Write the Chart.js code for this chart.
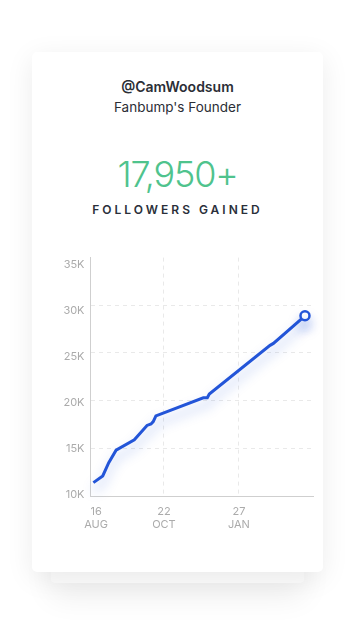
<!DOCTYPE html>
<html>
<head>
<meta charset="utf-8">
<script src="https://cdn.jsdelivr.net/npm/chart.js@4"></script>
<style>
html,body{margin:0;padding:0;background:#fff;width:356px;height:632px;overflow:hidden;font-family:"Inter","Open Sans",sans-serif;}
.back{position:absolute;left:51px;top:540px;width:253px;height:43px;background:#fcfcfc;border-radius:4px;box-shadow:0 14px 30px rgba(0,0,0,0.07);}
.card{position:absolute;left:32px;top:52px;width:291px;height:520px;background:#fff;border-radius:5px;box-shadow:0 6px 28px rgba(0,0,0,0.08);}
.t{position:absolute;left:0;width:291px;text-align:center;white-space:nowrap;}
#handle{top:26px;font-size:14px;font-weight:600;color:#2b2e36;}
#role{top:47px;font-size:13.5px;font-weight:400;color:#2b2e36;}
#num{top:100px;font-size:36px;font-weight:300;color:#4fc38d;letter-spacing:-1.2px;}
#lab{top:150px;font-size:12px;font-weight:600;color:#2a2f3a;letter-spacing:3px;}
#wrap{position:absolute;left:0;top:193px;width:291px;height:300px;}
</style>
</head>
<body>
<div class="back"></div>
<div class="card">
  <div class="t" id="handle">@CamWoodsum</div>
  <div class="t" id="role">Fanbump's Founder</div>
  <div class="t" id="num">17,950+</div>
  <div class="t" id="lab">FOLLOWERS GAINED</div>
  <div id="wrap"><canvas id="c" width="291" height="300"></canvas></div>
</div>
<script>
// data
const xPos = [1.3, 5.5, 8.2, 11.5, 19.7, 25.4, 27.2, 28.2, 29.4, 50.7, 52.5, 53.4, 80.7, 82.2, 96.4];
const followers = [11400, 12100, 13500, 14800, 15900, 17400, 17550, 17800, 18400, 20300, 20300, 20700, 25800, 26000, 28900];
const xTickPos = [2.5, 33, 66.7];
const xTickLabels = [['16','AUG'], ['22','OCT'], ['27','JAN']];
const yTicks = [10000, 15000, 20000, 25000, 30000, 35000];

const blue = '#2355d8';
const points = xPos.map((x, i) => ({x: x, y: followers[i]}));
const lastIdx = points.length - 1;

const glow = {
  id: 'glow',
  beforeDatasetDraw(chart) {
    const ctx = chart.ctx;
    ctx.save();
    ctx.shadowColor = 'rgba(35,85,216,0.35)';
    ctx.shadowBlur = 12;
    ctx.shadowOffsetY = 8;
  },
  afterDatasetDraw(chart) { chart.ctx.restore(); }
};

new Chart(document.getElementById('c'), {
  type: 'line',
  data: {
    datasets: [{
      data: points,
      yAxisID: 'y',
      borderColor: blue,
      borderWidth: 3,
      tension: 0,
      fill: false,
      pointRadius: points.map((p, i) => i === lastIdx ? 4.5 : 0),
      pointBackgroundColor: '#fff',
      pointBorderColor: blue,
      pointBorderWidth: 2.5,
      clip: false
    }]
  },
  options: {
    responsive: false,
    animation: false,
    devicePixelRatio: 1,
    layout: {padding: {left: 0, right: 10, top: 12, bottom: 9}},
    plugins: {legend: {display: false}, tooltip: {enabled: false}},
    scales: {
      x: {
        type: 'linear', min: 0, max: 100,
        afterBuildTicks: s => { s.ticks = xTickPos.map(v => ({value: v})); },
        afterFit: s => { s.height = 40; },
        ticks: {
          autoSkip: false, maxRotation: 0, padding: 9,
          color: '#ababab',
          font: {family: 'Inter', size: 11},
          callback: (v, i) => xTickLabels[i]
        },
        grid: {
          drawTicks: false,
          color: ctx => ctx.index === 0 ? 'rgba(0,0,0,0)' : '#e9e9e9',
          lineWidth: 1
        },
        border: {display: true, color: '#cfcfcf', width: 1, dash: [4, 4]}
      },
      y: {
        position: 'left', weight: 0,
        min: 10000, max: 35000,
        afterBuildTicks: s => { s.ticks = yTicks.map(v => ({value: v})); },
        afterFit: s => { s.width = 0; },
        ticks: {display: false},
        grid: {
          drawTicks: false,
          color: ctx => (ctx.tick && ctx.tick.value === 35000) ? 'rgba(0,0,0,0)' : '#e9e9e9',
          lineWidth: 1
        },
        border: {display: true, color: '#cfcfcf', width: 1, dash: [4, 4]}
      },
      yl: {
        position: 'left', weight: 1,
        min: 9837, max: 35760,
        afterBuildTicks: s => { s.ticks = yTicks.map(v => ({value: v})); },
        afterFit: s => { s.width = 58.5; },
        ticks: {
          padding: 6,
          color: '#ababab',
          font: {family: 'Inter', size: 11},
          callback: v => (v / 1000) + 'K'
        },
        grid: {display: false, drawTicks: false},
        border: {display: false}
      }
    }
  },
  plugins: [glow]
});
</script>
</body>
</html>
